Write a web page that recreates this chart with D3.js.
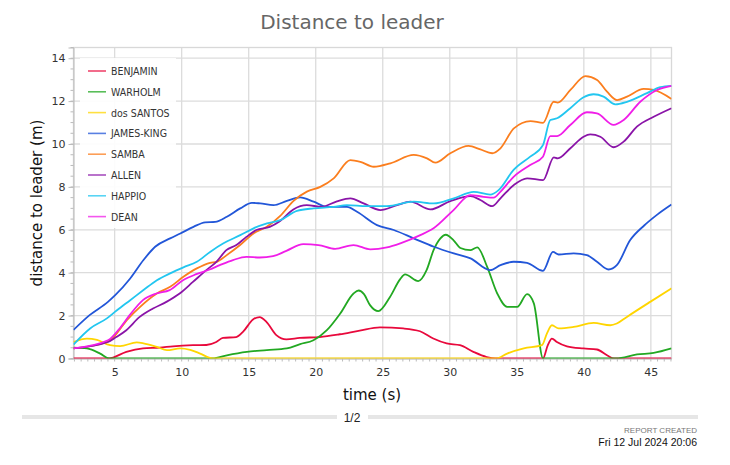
<!DOCTYPE html>
<html><head><meta charset="utf-8">
<script src="https://cdn.jsdelivr.net/npm/d3@7"></script>
<style>body{margin:0;background:#fff}svg{display:block}</style>
</head><body>
<svg id="c" width="730" height="465"></svg>
<script>
const names = ["BENJAMIN","WARHOLM","dos SANTOS","JAMES-KING","SAMBA","ALLEN","HAPPIO","DEAN"];
const colors = ["#e8093c","#22a822","#ffd500","#2256d8","#fb7e1e","#8a14a8","#22c6f0","#f01ee8"];
const xTicks = [5,10,15,20,25,30,35,40,45];
const yTicks = [0,2,4,6,8,10,12,14];

const benjamin = [[1.93,0],[4.55,0],[5.87,0.31],[7.11,0.47],[8.36,0.51],[9.35,0.57],[10.84,0.62],[11.84,0.63],[12.58,0.77],[13.08,0.96],[14.07,1.0],[14.57,1.24],[15.32,1.82],[15.82,1.93],[16.32,1.71],[17.06,1.09],[17.81,0.89],[18.81,0.96],[20.3,1.0],[21.79,1.13],[23.28,1.3],[24.79,1.45],[26.53,1.4],[27.78,1.27],[28.77,0.93],[29.77,0.7],[30.76,0.62],[31.76,0.31],[32.75,0.07],[33.4,0],[36.95,0],[37.3,0.6],[37.62,0.93],[37.99,0.77],[38.74,0.57],[39.98,0.47],[40.98,0.42],[41.73,0.15],[42.25,0],[46.54,0]];
const warholm = [[1.93,0.51],[2.93,0.47],[3.92,0.23],[4.6,0],[12.3,0],[13.37,0.15],[14.86,0.31],[16.35,0.39],[17.84,0.47],[18.84,0.67],[19.83,0.85],[20.83,1.32],[21.83,2.1],[22.82,3.03],[23.2,3.17],[23.6,3.0],[24.05,2.49],[24.67,2.21],[25.54,2.87],[26.3,3.7],[26.66,3.92],[27.65,3.61],[28.27,4.12],[28.79,5.05],[29.3,5.6],[29.7,5.77],[30.3,5.5],[30.79,5.15],[31.53,5.05],[32.05,5.18],[32.79,4.27],[33.54,3.03],[34.28,2.41],[35.03,2.41],[35.77,3.0],[36.27,2.57],[36.96,0],[42.4,0],[43.97,0.19],[45.21,0.26],[46.54,0.47]];
const dosSantos = [[1.93,0.77],[2.93,0.93],[3.68,0.87],[4.66,0.62],[5.41,0.58],[6.65,0.75],[7.15,0.71],[8.15,0.54],[8.9,0.39],[9.89,0.47],[10.64,0.4],[11.38,0.23],[12.3,0],[33.45,0],[34.28,0.23],[35.52,0.47],[36.88,0.62],[37.25,1.17],[37.62,1.55],[38.12,1.4],[39.24,1.47],[40.73,1.66],[41.97,1.55],[42.46,1.63],[43.21,1.94],[44.95,2.64],[46.54,3.27]];
const jamesKing = [[1.93,1.33],[3.13,2.02],[4.5,2.64],[5.04,2.95],[6.16,3.73],[7.15,4.59],[8.02,5.21],[9.14,5.6],[9.9,5.83],[10.88,6.14],[11.75,6.35],[12.5,6.37],[13.37,6.61],[14.37,7.0],[15.24,7.26],[15.86,7.23],[16.85,7.15],[17.85,7.35],[18.84,7.51],[19.84,7.31],[20.84,7.07],[22.33,7.07],[23.08,6.84],[24.57,6.22],[25.82,5.99],[27.31,5.6],[28.81,5.21],[30.3,4.9],[31.55,4.67],[33.0,4.12],[33.78,4.35],[34.77,4.51],[35.76,4.46],[36.95,4.09],[37.7,4.97],[38.12,4.85],[39.24,4.9],[40.23,4.82],[40.98,4.51],[41.84,4.15],[42.46,4.35],[43.46,5.52],[44.5,6.2],[45.5,6.72],[46.54,7.18]];
const samba = [[1.93,0.47],[4.42,0.77],[4.92,1.0],[5.91,1.79],[6.9,2.41],[8.15,3.03],[9.14,3.34],[10.13,3.81],[11.13,4.2],[12.12,4.46],[12.62,4.51],[13.36,4.82],[14.36,5.29],[15.36,5.83],[16.35,6.14],[17.35,6.65],[18.35,7.35],[19.34,7.78],[20.34,8.0],[21.34,8.4],[22.58,9.25],[23.33,9.17],[24.33,8.94],[25.57,9.1],[27.31,9.49],[28.3,9.33],[28.92,9.13],[30.04,9.57],[31.4,9.91],[32.28,9.75],[33.16,9.57],[33.78,9.8],[34.78,10.73],[36.02,11.07],[36.96,10.99],[37.75,11.97],[38.05,11.93],[39.0,12.52],[40.12,13.17],[40.99,12.99],[41.73,12.44],[42.48,12.05],[43.22,12.21],[44.47,12.57],[45.21,12.52],[46.54,12.1]];
const allen = [[1.93,0.47],[4.5,0.77],[5.12,1.0],[5.87,1.32],[6.87,1.94],[7.86,2.33],[8.86,2.64],[9.85,3.03],[10.84,3.57],[11.84,4.12],[12.59,4.51],[13.33,5.05],[14.08,5.29],[14.83,5.67],[15.57,5.99],[16.57,6.14],[17.32,6.4],[18.33,6.95],[19.33,7.15],[20.45,7.07],[21.58,7.33],[22.58,7.47],[23.57,7.23],[24.82,6.92],[26.07,7.15],[27.06,7.31],[28.55,6.95],[30.04,7.34],[31.54,7.57],[32.28,7.39],[33.16,7.1],[33.78,7.47],[34.78,8.09],[35.77,8.4],[36.96,8.32],[37.76,9.38],[38.05,9.33],[39.0,9.8],[39.98,10.34],[40.48,10.45],[41.23,10.34],[42.22,9.85],[42.97,10.11],[43.96,10.81],[45.21,11.27],[46.54,11.67]];
const happio = [[1.93,0.65],[3.17,1.4],[4.42,1.87],[5.17,2.25],[6.16,2.72],[7.15,3.19],[8.15,3.65],[9.14,3.97],[10.13,4.25],[11.13,4.51],[12.12,4.97],[13.12,5.37],[14.37,5.75],[15.36,6.07],[16.36,6.3],[17.35,6.45],[18.6,6.88],[19.84,7.0],[21.33,7.07],[22.33,7.15],[23.82,7.1],[25.31,7.1],[27.31,7.31],[28.81,7.23],[30.3,7.47],[31.79,7.77],[33.02,7.64],[33.64,7.85],[34.76,8.79],[36.0,9.41],[36.95,9.95],[37.5,11.12],[38.0,11.2],[38.99,11.67],[39.98,12.18],[40.73,12.32],[41.47,12.21],[42.35,11.85],[43.22,11.97],[44.71,12.37],[45.7,12.65],[46.54,12.71]];
const dean = [[1.93,0.47],[4.5,0.85],[5.37,1.4],[6.12,2.02],[7.11,2.72],[8.11,3.03],[9.1,3.19],[10.1,3.65],[11.09,3.93],[12.09,4.15],[12.84,4.35],[13.83,4.59],[14.83,4.74],[15.82,4.71],[16.82,4.77],[17.81,5.02],[19.07,5.33],[20.2,5.29],[21.45,5.11],[22.82,5.29],[24.07,5.09],[25.31,5.18],[26.31,5.37],[27.8,5.75],[28.79,6.07],[30.28,6.92],[31.53,7.62],[32.52,7.54],[33.27,7.5],[33.77,7.77],[34.76,8.47],[36.0,9.02],[36.95,9.41],[37.5,10.37],[38.0,10.37],[38.99,10.89],[40.23,11.48],[40.98,11.43],[42.22,10.89],[42.97,11.12],[44.21,11.97],[45.46,12.52],[46.54,12.71]];
const seriesData = [benjamin, warholm, dosSantos, jamesKing, samba, allen, happio, dean];

const svg = d3.select("#c");
const L = 73.5, R = 671.5, T = 47.5, B = 358.5;
const x = d3.scaleLinear().domain([1.93, 46.54]).range([L, R]);
const y = d3.scaleLinear().domain([0, 14.5]).range([B, T]);
const FONT = "'DejaVu Sans', Verdana, sans-serif";

// title
svg.append("text").attr("x", 352).attr("y", 29).attr("text-anchor", "middle")
  .attr("font-family", FONT).attr("font-size", 20).attr("fill", "#666").text("Distance to leader");

// grid
const g = svg.append("g");
g.selectAll(".gx").data(xTicks).join("line")
  .attr("x1", d => x(d)).attr("x2", d => x(d)).attr("y1", T).attr("y2", B)
  .attr("stroke", "#dcdcdc").attr("stroke-width", 1.3);
g.selectAll(".gy").data(yTicks).join("line")
  .attr("x1", L).attr("x2", R).attr("y1", d => y(d)).attr("y2", d => y(d))
  .attr("stroke", "#dcdcdc").attr("stroke-width", 1.3);
g.append("rect").attr("x", L).attr("y", T).attr("width", R - L).attr("height", B - T)
  .attr("fill", "none").attr("stroke", "#d8d8d8").attr("stroke-width", 1.3);

// axes
const xAxis = d3.axisBottom(x).tickValues(xTicks).tickSize(0).tickPadding(10);
const xa = svg.append("g").attr("transform", `translate(0,${B})`).call(xAxis);
const minorX = d3.range(2, 46.6, 0.5);
svg.append("g").selectAll("line").data(minorX).join("line")
  .attr("x1", d => x(d)).attr("x2", d => x(d)).attr("y1", B).attr("y2", B + 3)
  .attr("stroke", "#bbb");
const yAxis = d3.axisLeft(y).tickValues(yTicks).tickSize(5).tickPadding(3);
const ya = svg.append("g").attr("transform", `translate(${L},0)`).call(yAxis);
const minorY = d3.range(0, 14.51, 0.5);
svg.append("g").selectAll("line").data(minorY).join("line")
  .attr("x1", L - 3).attr("x2", L).attr("y1", d => y(d)).attr("y2", d => y(d))
  .attr("stroke", "#bbb");
[xa, ya].forEach(a => {
  a.select(".domain").attr("stroke", "#bbb");
  a.selectAll(".tick line").attr("stroke", "#bbb");
  a.selectAll(".tick text").attr("font-family", FONT).attr("font-size", 11).attr("fill", "#333");
});

// axis titles
svg.append("text").attr("x", 372).attr("y", 400).attr("text-anchor", "middle")
  .attr("font-family", FONT).attr("font-size", 15).attr("fill", "#111").text("time (s)");
svg.append("text").attr("transform", `translate(42,${(T + B) / 2}) rotate(-90)`).attr("text-anchor", "middle")
  .attr("font-family", FONT).attr("font-size", 15).attr("fill", "#111").text("distance to leader (m)");

// clip
svg.append("clipPath").attr("id", "clip").append("rect")
  .attr("x", L).attr("y", T).attr("width", R - L).attr("height", B - T);

const line = d3.line().x(d => x(d[0])).y(d => y(d[1])).curve(d3.curveMonotoneX);
svg.append("g").attr("clip-path", "url(#clip)").selectAll("path").data(seriesData).join("path")
  .attr("d", line).attr("fill", "none").attr("stroke", (d, i) => colors[i]).attr("stroke-width", 1.8);

// legend
const lg = svg.append("g");
lg.append("rect").attr("x", 80).attr("y", 58).attr("width", 96).attr("height", 170)
  .attr("fill", "#fff").attr("fill-opacity", 0.9);
names.forEach((n, i) => {
  const yy = 71 + i * 20.8;
  lg.append("line").attr("x1", 88).attr("x2", 106).attr("y1", yy).attr("y2", yy)
    .attr("stroke", colors[i]).attr("stroke-width", 1.6).attr("stroke-opacity", 0.75);
  lg.append("text").attr("x", 111).attr("y", yy + 4)
    .attr("font-family", "'DejaVu Sans Condensed', 'DejaVu Sans', sans-serif").attr("font-stretch", "condensed")
    .attr("font-size", 10.5).attr("fill", "#333").text(n);
});

// footer
const NARROW = "'Liberation Sans Narrow', 'Liberation Sans', Arial, sans-serif";
svg.append("rect").attr("x", 22).attr("y", 415).attr("width", 315).attr("height", 4).attr("fill", "#e6e6e6");
svg.append("rect").attr("x", 368).attr("y", 415).attr("width", 330).attr("height", 4).attr("fill", "#e6e6e6");
svg.append("text").attr("x", 352).attr("y", 422).attr("text-anchor", "middle")
  .attr("font-family", NARROW).attr("font-size", 12).attr("fill", "#222").text("1/2");
svg.append("text").attr("x", 697).attr("y", 433).attr("text-anchor", "end")
  .attr("font-family", NARROW).attr("font-size", 8).attr("fill", "#777").text("REPORT CREATED");
svg.append("text").attr("x", 697).attr("y", 446).attr("text-anchor", "end")
  .attr("font-family", NARROW).attr("font-size", 10.5).attr("fill", "#111").text("Fri 12 Jul 2024 20:06");
</script>
</body></html>
